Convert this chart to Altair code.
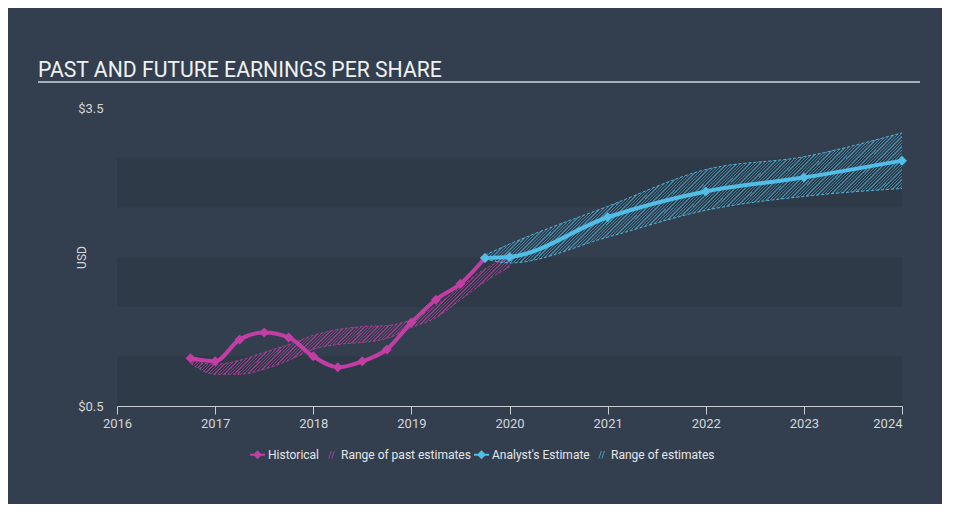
import altair as alt
import pandas as pd

# ---------------- data ----------------
title_text = ["PAST AND FUTURE EARNINGS PER SHARE"]

hist_year = [2016.75, 2017.0, 2017.25, 2017.5, 2017.75, 2018.0, 2018.25,
             2018.5, 2018.75, 2019.0, 2019.25, 2019.5, 2019.75]
hist_eps = [0.98, 0.95, 1.17, 1.24, 1.19, 1.00, 0.89, 0.95, 1.07, 1.34,
            1.57, 1.73, 1.99]

past_year = [2016.75, 2017.0, 2017.25, 2017.5, 2017.75, 2018.0, 2018.25,
             2018.5, 2018.75, 2019.0, 2019.25, 2019.5, 2019.75, 2020.0]
past_hi = [0.96, 0.92, 0.96, 1.04, 1.12, 1.21, 1.27, 1.30, 1.31, 1.37,
           1.51, 1.70, 1.88, 2.00]
past_lo = [0.93, 0.82, 0.82, 0.87, 0.96, 1.07, 1.12, 1.14, 1.18, 1.29,
           1.39, 1.57, 1.75, 1.90]

est_year = [2019.75, 2020.0, 2021.0, 2022.0, 2023.0, 2024.0]
est_eps = [1.99, 2.00, 2.40, 2.66, 2.80, 2.97]
est_hi = [2.02, 2.13, 2.51, 2.88, 3.01, 3.25]
est_lo = [1.98, 1.94, 2.20, 2.47, 2.61, 2.69]

band_lo = [0.5, 1.5, 2.5]
band_hi = [1.0, 2.0, 3.0]

x_ticks = [2016, 2017, 2018, 2019, 2020, 2021, 2022, 2023, 2024]
y_ticks = [0.5, 3.5]

legend_names = ["Historical", "Range of past estimates",
                "Analyst's Estimate", "Range of estimates"]

# ---------------- styles ----------------
BG = "#333f4e"
BAND = "#2f3a48"
MAG = "#c23ea4"
BLUE = "#50bee6"
AXIS = "#c8cdd3"
TXT = "#d3d6da"


def hatch(rgb, alpha, n, slope, frac=0.4):
    """Diagonal '///' stripes as a linear gradient (fill style only)."""
    on = "rgba(%d,%d,%d,%.2f)" % (rgb + (alpha,))
    off = "rgba(%d,%d,%d,0)" % rgb
    k = (1 + slope) / (1 + slope * slope)
    stops = []
    for i in range(n):
        a = i / n
        b = (i + 1 - frac) / n
        c = (i + 1) / n
        stops += [{"offset": a, "color": off}, {"offset": b, "color": off},
                  {"offset": b, "color": on}, {"offset": c, "color": on}]
    return {"gradient": "linear", "x1": 0, "y1": 0, "x2": k, "y2": k * slope,
            "stops": stops}


hist = pd.DataFrame({"year": hist_year, "eps": hist_eps})
past = pd.DataFrame({"year": past_year, "hi": past_hi, "lo": past_lo})
est = pd.DataFrame({"year": est_year, "eps": est_eps, "hi": est_hi, "lo": est_lo})
bands = pd.DataFrame({"lo": band_lo, "hi": band_hi})
leg = pd.DataFrame({"series": legend_names})
ttl = pd.DataFrame({"t": title_text})

xs = alt.Scale(domain=[2016, 2024], nice=False, zero=False)
ys = alt.Scale(domain=[0.5, 3.5], nice=False, zero=False)

x_axis = alt.Axis(
    values=x_ticks, format="d", title=None, grid=False,
    domainColor=AXIS, tickColor=AXIS, tickSize=8, domainWidth=1, tickWidth=1,
    labelColor=TXT, labelFontSize=13, labelPadding=3, labelFlush=False,
    labelAlign={"condition": {"test": "datum.value >= 2024", "value": "right"},
                "value": "center"},
)
y_axis = alt.Axis(
    values=y_ticks, grid=False, domain=False, ticks=False,
    labelExpr="'$' + format(datum.value, '.1f')",
    labelColor=TXT, labelFontSize=13, labelPadding=14,
    title="USD", titleColor=TXT, titleFontSize=12, titleFontWeight="normal",
    titleAngle=270, titleX=-32, titleY=149, titleAlign="center",
    titleBaseline="alphabetic",
)


def X(field):
    return alt.X(field, type="quantitative", scale=xs, axis=x_axis)


def Y(field):
    return alt.Y(field, type="quantitative", scale=ys, axis=y_axis)


band_layer = alt.Chart(bands).mark_rect(color=BAND).encode(
    x=alt.X(datum=2016, type="quantitative", scale=xs, axis=x_axis),
    x2=alt.X2(datum=2024),
    y=Y("lo"), y2="hi",
)

past_area = alt.Chart(past).mark_area(
    fill=hatch((194, 62, 164), 0.65, 132, 0.37), interpolate="monotone"
).encode(x=X("year"), y=Y("hi"), y2="lo")
past_hi_line = alt.Chart(past).mark_line(
    color=MAG, strokeWidth=1, strokeDash=[3, 2], opacity=0.8, interpolate="monotone"
).encode(x=X("year"), y=Y("hi"))
past_lo_line = alt.Chart(past).mark_line(
    color=MAG, strokeWidth=1, strokeDash=[3, 2], opacity=0.8, interpolate="monotone"
).encode(x=X("year"), y=Y("lo"))

est_area = alt.Chart(est).mark_area(
    fill=hatch((80, 190, 230), 0.55, 166, 0.31), interpolate="monotone"
).encode(x=X("year"), y=Y("hi"), y2="lo")
est_hi_line = alt.Chart(est).mark_line(
    color=BLUE, strokeWidth=1, strokeDash=[3, 2], opacity=0.9, interpolate="monotone"
).encode(x=X("year"), y=Y("hi"))
est_lo_line = alt.Chart(est).mark_line(
    color=BLUE, strokeWidth=1, strokeDash=[3, 2], opacity=0.9, interpolate="monotone"
).encode(x=X("year"), y=Y("lo"))

hist_line = alt.Chart(hist).mark_line(
    color=MAG, strokeWidth=4, interpolate="monotone"
).encode(x=X("year"), y=Y("eps"))
hist_pts = alt.Chart(hist).mark_point(
    color=MAG, filled=True, opacity=1, shape="diamond", size=100
).encode(x=X("year"), y=Y("eps"))

est_line = alt.Chart(est).mark_line(
    color=BLUE, strokeWidth=4, interpolate="monotone"
).encode(x=X("year"), y=Y("eps"))
est_pts = alt.Chart(est).mark_point(
    color=BLUE, filled=True, opacity=1, shape="diamond", size=100
).encode(x=X("year"), y=Y("eps"))

line_sym = "M-1,-0.13L1,-0.13L1,0.13L-1,0.13Z M0,-0.6L0.6,0L0,0.6L-0.6,0Z"
hatch_sym = ("M-0.3,0.5L-0.15,0.5L0.2,-0.5L0.05,-0.5Z "
             "M0.1,0.5L0.25,0.5L0.6,-0.5L0.45,-0.5Z")

legend = alt.Legend(
    title=None, orient="none", legendX=133, legendY=339, direction="horizontal",
    columns=4, labelColor="#e4e6e8", labelFontSize=12, labelFont="Roboto",
    symbolSize=225, symbolOpacity=1, symbolStrokeWidth=0, labelOffset=3,
    columnPadding=3, padding=0,
)
legend_layer = alt.Chart(leg).mark_point(filled=True, clip=True, size=225).encode(
    x=alt.X(datum=1990, type="quantitative", scale=xs, axis=x_axis),
    y=alt.Y(datum=2.0, type="quantitative", scale=ys, axis=y_axis),
    color=alt.Color("series:N", scale=alt.Scale(
        domain=legend_names, range=[MAG, "#9a4094", BLUE, "#4196b9"]), legend=legend),
    shape=alt.Shape("series:N", scale=alt.Scale(
        domain=legend_names, range=[line_sym, hatch_sym, line_sym, hatch_sym]),
        legend=legend),
)

title_layer = alt.Chart(ttl).mark_text(
    align="left", baseline="alphabetic", fontSize=21.2, color="#f0f1f2", font="Roboto"
).encode(x=alt.value(-79), y=alt.value(-31), text="t:N")
underline = alt.Chart(ttl).mark_rule(color="#a7afb8", strokeWidth=2).encode(
    x=alt.value(-79), x2=alt.value(803), y=alt.value(-26))

chart = alt.layer(
    band_layer, past_area, past_hi_line, past_lo_line,
    est_area, est_hi_line, est_lo_line,
    hist_line, est_line, hist_pts, est_pts,
    legend_layer, title_layer, underline,
).properties(
    width=785, height=298,
    padding={"left": 109, "top": 100, "right": 40, "bottom": 98},
    autosize=alt.AutoSizeParams(type="none"),
    background=BG,
).configure(font="Roboto").configure_view(stroke=None)

chart.save("out.html", embed_options={"renderer": "svg", "actions": False})
